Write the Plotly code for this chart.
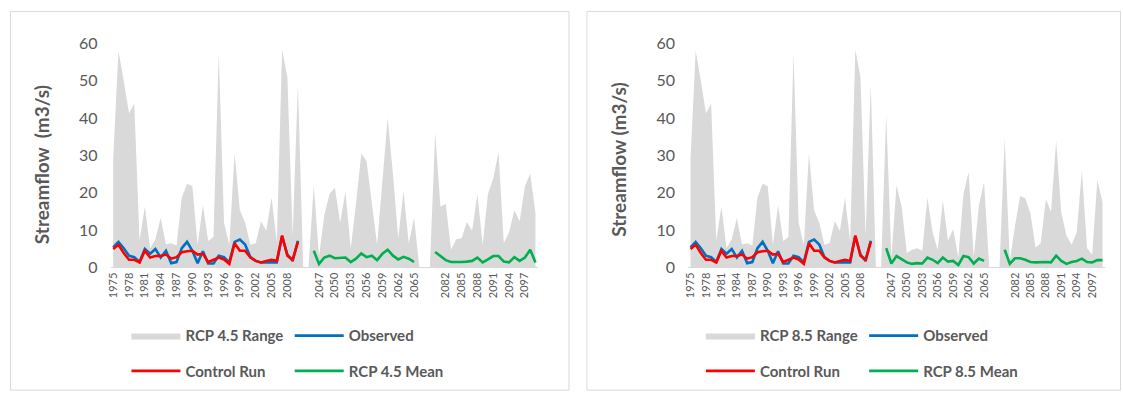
import plotly.graph_objects as go

# ---- data -----------------------------------------------------------------
hist_years = list(range(1975, 2011))
mid_years = list(range(2046, 2066))
late_years = list(range(2080, 2100))

# historical envelope of simulated flows (same in both scenarios)
range_hist = [29, 58, 50, 41.3, 43.8, 7.2, 16.3, 5.1, 7.5, 13.2, 6.1, 6.4,
              5.8, 18.7, 22.4, 21.7, 6, 16.6, 7, 8.1, 57.4, 11.9, 6, 30.6,
              15.3, 11.9, 6, 6.4, 12.3, 9.8, 18.7, 6.8, 58.3, 51, 8.5, 49]
observed = [5.3, 6.8, 5.1, 3.1, 2.7, 1.4, 4.9, 3.6, 4.9, 2.6, 4.4, 1.1,
            1.4, 5.1, 6.8, 4.4, 1.1, 4.3, 1.0, 1.0, 3.1, 2.7, 1.3, 6.8,
            7.4, 6.1, 2.7, 1.7, 1.3, 1.3, 1.4, 1.3, 8.3, 3.4, 1.7, 7.1]
control_run = [4.9, 6.0, 3.8, 2.0, 2.0, 1.3, 4.4, 2.6, 3.0, 3.0, 3.4, 2.3,
               2.7, 4.0, 4.3, 4.4, 3.4, 3.6, 1.4, 2.0, 2.6, 2.1, 0.9, 6.4,
               4.4, 4.4, 2.6, 1.7, 1.3, 1.7, 2.0, 1.7, 8.5, 3.1, 2.0, 6.8]

rcp45_range_mid = [22, 3, 14, 19.7, 21.3, 11.9, 20.2, 5.1, 17, 30.5,
                   28.5, 17, 6, 23, 40, 25, 7.7, 20.4, 6.4, 13.2]
rcp45_range_late = [36, 16.2, 17, 4.7, 7.5, 7.8, 12.1, 9.8, 19.6, 6,
                    19.6, 23.8, 30.8, 6.4, 9.4, 15.3, 12.3, 21.7, 25.1, 14.5]
rcp45_mean_mid = [4.4, 0.9, 2.6, 3.1, 2.4, 2.6, 2.6, 1.4, 2.3, 3.7,
                  2.7, 3.1, 1.9, 3.6, 4.7, 3.1, 2.1, 2.8, 2.3, 1.4]
rcp45_mean_late = [4.1, 3.0, 1.9, 1.4, 1.3, 1.4, 1.5, 1.7, 2.6, 1.3,
                   2.1, 3.0, 3.0, 1.5, 1.3, 2.7, 1.7, 2.6, 4.7, 1.3]

rcp85_range_mid = [40.9, 2.5, 22, 16.2, 3.8, 4.7, 5.1, 4.4, 18.7, 9.4,
                   4.7, 17.9, 7.2, 10.2, 2.6, 19.6, 25.5, 2.6, 16.6, 22.8]
rcp85_range_late = [34.5, 1.7, 11, 19.1, 18.5, 14.5, 5.3, 6.4, 18.3, 14.9,
                    33.9, 14.5, 8.5, 6, 9.4, 26, 5.1, 3.4, 23.4, 17.4]
rcp85_mean_mid = [5.1, 1.0, 3.0, 2.1, 1.3, 0.9, 1.1, 1.0, 2.6, 2.0,
                  1.1, 2.6, 1.5, 1.7, 0.6, 3.0, 2.7, 1.0, 2.3, 1.7]
rcp85_mean_late = [4.7, 0.9, 2.4, 2.4, 2.0, 1.4, 1.3, 1.4, 1.4, 1.3,
                   3.1, 1.7, 0.9, 1.4, 1.7, 2.3, 1.4, 1.3, 1.9, 1.9]

# category axis: periods separated by empty slots
categories = ([str(y) for y in hist_years] + ["", ""] +
              [str(y) for y in mid_years] + ["", "", ""] +
              [str(y) for y in late_years])
N = len(categories)
pos = {c: i for i, c in enumerate(categories) if c}
tick_idx = list(range(0, N, 3))
tick_txt = [categories[i] for i in tick_idx]

hist_x = [pos[str(y)] for y in hist_years]


def full_range(mid, late):
    vals = dict(zip(hist_years, range_hist))
    vals.update(zip(mid_years, mid))
    vals.update(zip(late_years, late))
    # empty slots are drawn at zero, as in a spreadsheet area chart
    return [vals.get(int(c), 0) if c else 0 for c in categories]


def full_mean(mid, late):
    vals = dict(zip(mid_years, mid))
    vals.update(zip(late_years, late))
    return [vals.get(int(c)) if c else None for c in categories]


# ---- styling -------------------------------------------------------------
W, H = 1123, 402
GREY_TXT = "#595959"
FONT = "Lato"
RANGE_C = "#d9d9d9"
OBS_C = "#0070c0"
CTRL_C = "#ff0000"
MEAN_C = "#00b050"


def fx(px):
    return px / W


def fy(py):
    return 1 - py / H


fig = go.Figure()

# each legend entry gets its own legend box so the 2x2 grid can be placed
panels = [
    dict(xa="x", ya="y", tag="4.5", rng=(rcp45_range_mid, rcp45_range_late),
         mean=(rcp45_mean_mid, rcp45_mean_late),
         legs=("legend", "legend2", "legend3", "legend4")),
    dict(xa="x2", ya="y2", tag="8.5", rng=(rcp85_range_mid, rcp85_range_late),
         mean=(rcp85_mean_mid, rcp85_mean_late),
         legs=("legend5", "legend6", "legend7", "legend8")),
]

for p in panels:
    fig.add_trace(go.Scatter(
        x=list(range(N)), y=full_range(*p["rng"]), mode="lines",
        fill="tozeroy", fillcolor=RANGE_C, line=dict(width=0, color=RANGE_C),
        name=f"RCP {p['tag']} Range", xaxis=p["xa"], yaxis=p["ya"],
        legend=p["legs"][0]))
    fig.add_trace(go.Scatter(
        x=hist_x, y=observed, mode="lines", line=dict(color=OBS_C, width=2.6),
        name="Observed", xaxis=p["xa"], yaxis=p["ya"], legend=p["legs"][1]))
    fig.add_trace(go.Scatter(
        x=hist_x, y=control_run, mode="lines",
        line=dict(color=CTRL_C, width=2.6), name="Control Run",
        xaxis=p["xa"], yaxis=p["ya"], legend=p["legs"][2]))
    fig.add_trace(go.Scatter(
        x=list(range(N)), y=full_mean(*p["mean"]), mode="lines",
        connectgaps=False, line=dict(color=MEAN_C, width=2.6),
        name=f"RCP {p['tag']} Mean", xaxis=p["xa"], yaxis=p["ya"],
        legend=p["legs"][3]))

xcommon = dict(range=[-0.5, N - 0.5], tickmode="array", tickvals=tick_idx,
               ticktext=tick_txt, tickangle=-90, showgrid=False,
               zeroline=False, showline=True, linecolor=RANGE_C, linewidth=1,
               ticks="", tickfont=dict(family=FONT, size=11, color=GREY_TXT),
               fixedrange=True)
ycommon = dict(range=[0, 60], dtick=10, showgrid=False, zeroline=False,
               showline=False, ticks="", ticklabelstandoff=12,
               tickfont=dict(family=FONT, size=16, color=GREY_TXT),
               fixedrange=True)

plot_top, plot_bottom = 35, 270
legend_common = dict(orientation="h", xanchor="left", yanchor="middle",
                     itemwidth=49, bgcolor="rgba(0,0,0,0)",
                     font=dict(family=FONT, size=15, color=GREY_TXT,
                               weight="bold"))

row1, row2 = 342, 379
legend_slots = {
    "legend": (122, row1), "legend2": (286, row1),
    "legend3": (122, row2), "legend4": (286, row2),
    "legend5": (699, row1), "legend6": (863, row1),
    "legend7": (699, row2), "legend8": (863, row2),
}
legend_layout = {name: dict(x=fx(px), y=fy(py), **legend_common)
                 for name, (px, py) in legend_slots.items()}

fig.update_layout(
    width=W, height=H, margin=dict(l=0, r=0, t=0, b=0),
    paper_bgcolor="white", plot_bgcolor="white", showlegend=True,
    xaxis=dict(domain=[fx(106), fx(535.5)], anchor="y", **xcommon),
    yaxis=dict(domain=[fy(plot_bottom), fy(plot_top)], anchor="x", **ycommon),
    xaxis2=dict(domain=[fx(686), fx(1105)], anchor="y2", **xcommon),
    yaxis2=dict(domain=[fy(plot_bottom), fy(plot_top)], anchor="x2",
                **ycommon),
    shapes=[
        dict(type="rect", xref="paper", yref="paper", x0=fx(5.5), x1=fx(566.5),
             y0=fy(399), y1=fy(1.5), line=dict(color=RANGE_C, width=1)),
        dict(type="rect", xref="paper", yref="paper", x0=fx(584.5),
             x1=fx(1120.5), y0=fy(399), y1=fy(1.5),
             line=dict(color=RANGE_C, width=1)),
    ],
    annotations=[
        dict(text="Streamflow\u00a0 (m3/s)", x=fx(37), y=fy(162),
             xref="paper", yref="paper", showarrow=False, textangle=-90,
             xanchor="center", yanchor="middle",
             font=dict(family=FONT, size=19, color=GREY_TXT, weight="bold")),
        dict(text="Streamflow (m3/s)", x=fx(616), y=fy(157),
             xref="paper", yref="paper", showarrow=False, textangle=-90,
             xanchor="center", yanchor="middle",
             font=dict(family=FONT, size=19, color=GREY_TXT, weight="bold")),
    ],
    **legend_layout,
)

fig.write_html("out.html")
